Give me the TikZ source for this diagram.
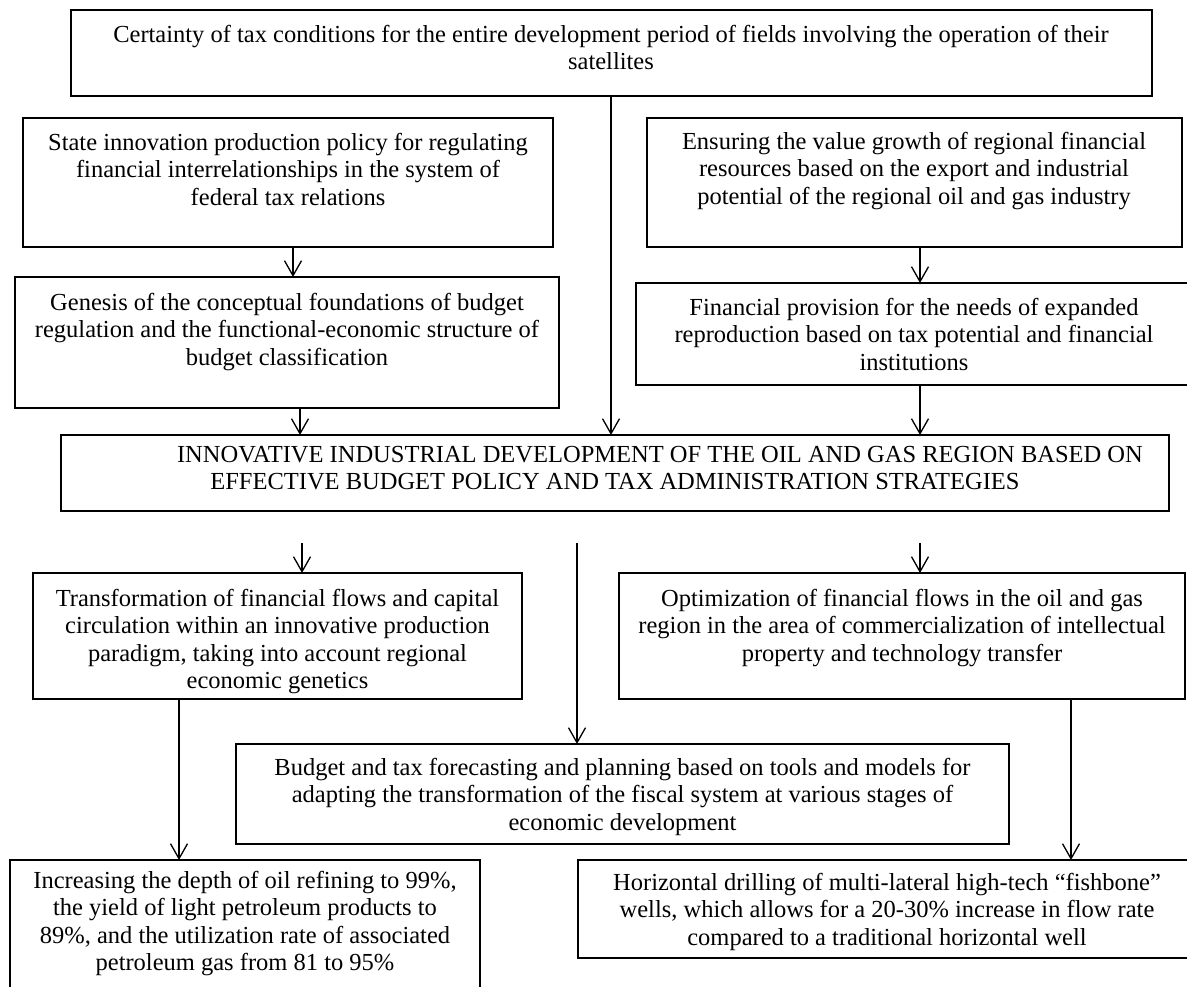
\documentclass[tikz,border=0pt]{standalone}
\usepackage{fontspec}
\setmainfont{Liberation Serif}
\usetikzlibrary{arrows.meta}
\begin{document}
\begin{tikzpicture}[x=1pt,y=-1pt,
  box/.style={draw, line width=1.5pt, inner sep=0pt, outer sep=0pt, anchor=north west},
  txt/.style={align=center, inner sep=0pt, anchor=north, font=\fontsize{24.5}{27.5}\selectfont},
  arr/.style={line width=1.3pt, -{Straight Barb[length=15pt,width=17pt,line width=1.3pt]}}]
\path[use as bounding box] (0,0) rectangle (1187,987);
\clip (0,0) rectangle (1187,987);
\fill[white] (0,0) rectangle (1187,987);

% boxes
\node[box, minimum width=1081pt, minimum height=86pt]  (T)  at (71,10) {};
\node[box, minimum width=530pt,  minimum height=129pt] (S)  at (23,118) {};
\node[box, minimum width=535pt,  minimum height=129pt] (E)  at (647,118) {};
\node[box, minimum width=544pt,  minimum height=131pt] (G)  at (15,277) {};
\node[box, minimum width=556pt,  minimum height=102pt] (F)  at (636,283) {};
\node[box, minimum width=1108pt, minimum height=76pt]  (I)  at (61,435) {};
\node[box, minimum width=489pt,  minimum height=126pt] (Tr) at (33,573) {};
\node[box, minimum width=566pt,  minimum height=126pt] (O)  at (619,573) {};
\node[box, minimum width=773pt,  minimum height=100pt] (B)  at (236,744) {};
\node[box, minimum width=470pt,  minimum height=140pt] (In) at (10,860) {};
\node[box, minimum width=618pt,  minimum height=98pt]  (H)  at (578,860) {};

% texts
\node[txt] (Tt) at (611,25) {Certainty of tax conditions for the entire development period of fields involving the operation of their\\satellites};
\node[txt] (St) at (288,133) {State innovation production policy for regulating\\financial interrelationships in the system of\\federal tax relations};
\node[txt] (Et) at (914,132) {Ensuring the value growth of regional financial\\resources based on the export and industrial\\potential of the regional oil and gas industry};
\node[txt] (Gt) at (287,293) {Genesis of the conceptual foundations of budget\\regulation and the functional-economic structure of\\budget classification};
\node[txt] (Ft) at (914,298) {Financial provision for the needs of expanded\\reproduction based on tax potential and financial\\institutions};
\node[txt] (It) at (615,446) {\hspace*{90pt}INNOVATIVE INDUSTRIAL DEVELOPMENT OF THE OIL AND GAS REGION BASED ON\\EFFECTIVE BUDGET POLICY AND TAX ADMINISTRATION STRATEGIES};
\node[txt] (Trt) at (277.5,589) {Transformation of financial flows and capital\\circulation within an innovative production\\paradigm, taking into account regional\\economic genetics};
\node[txt] (Ot) at (902,589) {Optimization of financial flows in the oil and gas\\region in the area of commercialization of intellectual\\property and technology transfer};
\node[txt] (Bt) at (622.5,758) {Budget and tax forecasting and planning based on tools and models for\\adapting the transformation of the fiscal system at various stages of\\economic development};
\node[txt] (Int) at (245,871) {Increasing the depth of oil refining to 99\%,\\the yield of light petroleum products to\\89\%, and the utilization rate of associated\\petroleum gas from 81 to 95\%};
\node[txt] (Ht) at (887,873) {Horizontal drilling of multi-lateral high-tech “fishbone”\\wells, which allows for a 20-30\% increase in flow rate\\compared to a traditional horizontal well};

% connector x positions and free ends
\coordinate (x1) at (293,0);
\coordinate (x2) at (300,0);
\coordinate (x3) at (611,0);
\coordinate (x4) at (920,0);
\coordinate (x5) at (179,0);
\coordinate (x6) at (1071,0);
\coordinate (s1) at (302,543);
\coordinate (s2) at (577,543);
\coordinate (s3) at (920,543);

\draw[arr] (S.south -| x1) -- (G.north -| x1);
\draw[arr] (G.south -| x2) -- (I.north -| x2);
\draw[arr] (T.south -| x3) -- (I.north -| x3);
\draw[arr] (E.south -| x4) -- (F.north -| x4);
\draw[arr] (F.south -| x4) -- (I.north -| x4);
\draw[arr] (s1) -- (Tr.north -| s1);
\draw[arr] (s2) -- (B.north -| s2);
\draw[arr] (s3) -- (O.north -| s3);
\draw[arr] (Tr.south -| x5) -- (In.north -| x5);
\draw[arr] (O.south -| x6) -- (H.north -| x6);
\end{tikzpicture}
\end{document}
